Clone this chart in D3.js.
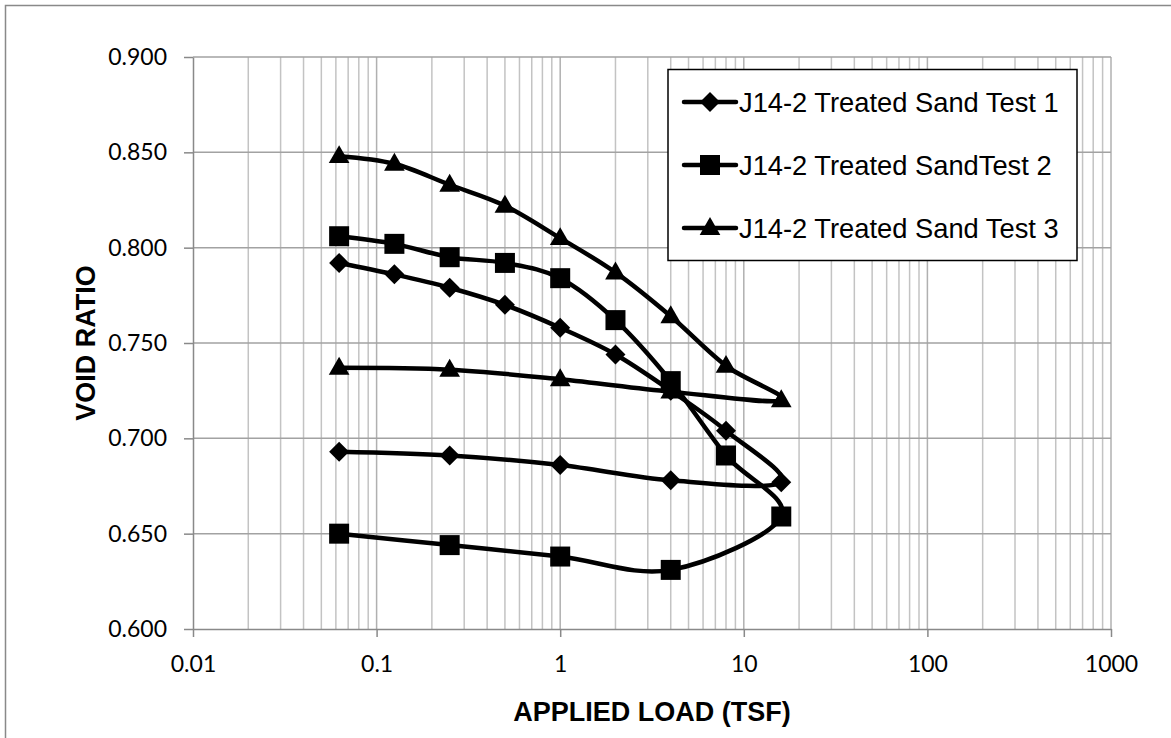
<!DOCTYPE html>
<html>
<head>
<meta charset="utf-8">
<script src="https://cdn.jsdelivr.net/npm/d3@7/dist/d3.min.js"></script>
<style>
  html, body { margin: 0; padding: 0; background: #fff; }
  svg { display: block; }
</style>
</head>
<body>
<svg id="chart" width="1171" height="738"></svg>
<script>
// Consolidation test results: void ratio vs applied load (log scale)
const loadSteps = [0.0625, 0.125, 0.25, 0.5, 1, 2, 4, 8, 16, 4, 1, 0.25, 0.0625];
const voidTest1 = [0.792, 0.786, 0.779, 0.770, 0.758, 0.744, 0.725, 0.704, 0.677, 0.678, 0.686, 0.691, 0.693];
const voidTest2 = [0.806, 0.802, 0.795, 0.792, 0.784, 0.762, 0.730, 0.691, 0.659, 0.631, 0.638, 0.644, 0.650];
const voidTest3 = [0.848, 0.844, 0.833, 0.822, 0.805, 0.787, 0.764, 0.738, 0.720, 0.7245, 0.731, 0.736, 0.737];
const seriesNames = ["J14-2 Treated Sand Test 1", "J14-2 Treated SandTest 2", "J14-2 Treated Sand Test 3"];
const markerKinds = ["diamond", "square", "triangle"];
const xTickValues = [0.01, 0.1, 1, 10, 100, 1000];
const yTickValues = [0.600, 0.650, 0.700, 0.750, 0.800, 0.850, 0.900];

const series = [voidTest1, voidTest2, voidTest3].map((vals, i) => ({
  name: seriesNames[i],
  marker: markerKinds[i],
  points: vals.map((v, j) => ({ load: loadSteps[j], e: v }))
}));

const svg = d3.select("#chart");
const W = 1171, H = 738;
const plot = { left: 193, right: 1111, top: 57, bottom: 629 };

// outer chart frame
svg.append("rect").attr("x", 5.5).attr("y", 5.5).attr("width", W + 10).attr("height", H + 10)
  .attr("fill", "#fff").attr("stroke", "#898989").attr("stroke-width", 1.5);

const x = d3.scaleLog().domain([0.01, 1000]).range([plot.left, plot.right]);
const y = d3.scaleLinear().domain([0.6, 0.9]).range([plot.bottom, plot.top]);

// minor vertical gridlines (2..9 in each decade)
const minorX = [];
for (let p = -2; p < 3; p++) for (let k = 2; k <= 9; k++) minorX.push(k * Math.pow(10, p));
const grid = svg.append("g");
grid.selectAll("line.minor").data(minorX).enter().append("line")
  .attr("x1", d => x(d)).attr("x2", d => x(d))
  .attr("y1", plot.top).attr("y2", plot.bottom)
  .attr("stroke", "#c3c3c3").attr("stroke-width", 1.5);
grid.selectAll("line.majx").data(xTickValues.slice(1)).enter().append("line")
  .attr("x1", d => x(d)).attr("x2", d => x(d))
  .attr("y1", plot.top).attr("y2", plot.bottom)
  .attr("stroke", "#b0b0b0").attr("stroke-width", 1.5);
grid.selectAll("line.majy").data(yTickValues.slice(1)).enter().append("line")
  .attr("x1", plot.left).attr("x2", plot.right)
  .attr("y1", d => y(d)).attr("y2", d => y(d))
  .attr("stroke", "#a2a2a2").attr("stroke-width", 1.5);

// axes
const tickFont = "Lato, 'Open Sans', sans-serif";
const xAxis = svg.append("g").attr("transform", `translate(0,${plot.bottom})`)
  .call(d3.axisBottom(x).tickValues(xTickValues).tickFormat(d => String(d))
    .tickSizeInner(8).tickSizeOuter(0).tickPadding(19));
const yAxis = svg.append("g").attr("transform", `translate(${plot.left},0)`)
  .call(d3.axisLeft(y).tickValues(yTickValues).tickFormat(d3.format(".3f"))
    .tickSizeInner(9).tickSizeOuter(0).tickPadding(17));
[xAxis, yAxis].forEach(a => {
  a.select(".domain").attr("stroke", "#898989").attr("stroke-width", 1.5);
  a.selectAll(".tick line").attr("stroke", "#898989").attr("stroke-width", 1.5);
  a.selectAll(".tick text").attr("fill", "#000").style("font-family", tickFont).style("font-size", "23px");
});

// axis titles
svg.append("text").attr("x", (plot.left + plot.right) / 2).attr("y", 721)
  .attr("text-anchor", "middle").style("font-family", "'Liberation Sans', Arial, sans-serif")
  .style("font-weight", "bold").style("font-size", "27px").text("APPLIED LOAD (TSF)");
svg.append("text").attr("transform", `translate(95,${(plot.top + plot.bottom) / 2}) rotate(-90)`)
  .attr("text-anchor", "middle").style("font-family", "'Liberation Sans', Arial, sans-serif")
  .style("font-weight", "bold").style("font-size", "27px").text("VOID RATIO");

// smoothed series lines
const line = d3.line().x(d => x(d.load)).y(d => y(d.e)).curve(d3.curveCatmullRom.alpha(0));
const lineWidth = 4.5;

function drawMarker(g, kind, cx, cy) {
  if (kind === "diamond") {
    g.append("path").attr("d", d3.symbol(d3.symbolSquare, 200)())
      .attr("transform", `translate(${cx},${cy}) rotate(45)`).attr("fill", "#000");
  } else if (kind === "square") {
    g.append("path").attr("d", d3.symbol(d3.symbolSquare, 400)())
      .attr("transform", `translate(${cx},${cy})`).attr("fill", "#000");
  } else {
    g.append("path").attr("d", d3.symbol(d3.symbolTriangle, 185)())
      .attr("transform", `translate(${cx},${cy + 1})`).attr("fill", "#000");
  }
}

const seriesG = svg.append("g");
series.forEach(s => {
  seriesG.append("path").datum(s.points).attr("d", line)
    .attr("fill", "none").attr("stroke", "#000").attr("stroke-width", lineWidth)
    .attr("stroke-linejoin", "round").attr("stroke-linecap", "round");
});
series.forEach(s => {
  const g = seriesG.append("g");
  s.points.forEach(p => drawMarker(g, s.marker, x(p.load), y(p.e)));
});

// legend
const legend = svg.append("g");
legend.append("rect").attr("x", 668).attr("y", 69.5).attr("width", 409).attr("height", 191)
  .attr("fill", "#fff").attr("stroke", "#000").attr("stroke-width", 1.5);
const rowY = [102, 165, 228];
series.forEach((s, i) => {
  const g = legend.append("g");
  g.append("line").attr("x1", 684).attr("x2", 736).attr("y1", rowY[i]).attr("y2", rowY[i])
    .attr("stroke", "#000").attr("stroke-width", lineWidth).attr("stroke-linecap", "round");
  drawMarker(g, s.marker, 710, rowY[i]);
  g.append("text").attr("x", 739).attr("y", rowY[i]).attr("dy", "0.36em")
    .style("font-family", "'Liberation Sans', Arial, sans-serif").style("font-size", "27.3px")
    .text(s.name);
});
</script>
</body>
</html>
